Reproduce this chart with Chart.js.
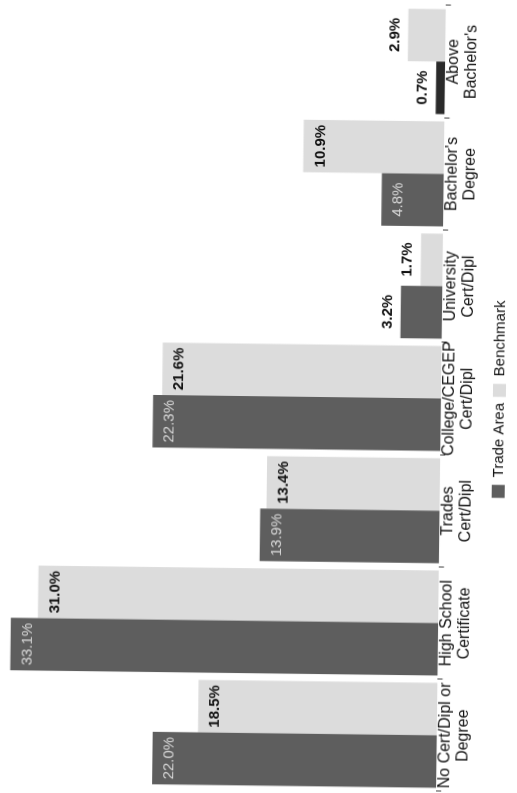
<!DOCTYPE html>
<html><head><meta charset="utf-8">
<script src="https://cdn.jsdelivr.net/npm/chart.js@4.4.0/dist/chart.umd.min.js"></script>
<style>
html,body{margin:0;padding:0;background:#fff;overflow:hidden;width:517px;height:793px;}
#wrap{position:absolute;left:0;top:0;width:793px;height:517px;transform-origin:0 0;transform:translate(-5px,789px) rotate(-89.29deg);}
canvas{display:block;}
</style></head><body>
<div id="wrap"><canvas id="c" width="793" height="517"></canvas></div>
<script>
const categories = [
  ["No Cert/Dipl or","Degree"],
  ["High School","Certificate"],
  ["Trades","Cert/Dipl"],
  ["College/CEGEP","Cert/Dipl"],
  ["University","Cert/Dipl"],
  ["Bachelor's","Degree"],
  ["Above","Bachelor's"]
];
const seriesNames = ["Trade Area","Benchmark"];
const tradeArea = [22.0, 33.1, 13.9, 22.3, 3.2, 4.8, 0.7];
const benchmark = [18.5, 31.0, 13.4, 21.6, 1.7, 10.9, 2.9];
const seriesColors = ["#5e5e5e","#dcdcdc"];

const FONT = '"Liberation Sans", Arial, sans-serif';

const valueLabels = {
  id: 'valueLabels',
  afterDatasetsDraw(chart) {
    const ctx = chart.ctx;
    ctx.save();
    ctx.textAlign = 'center';
    ctx.textBaseline = 'middle';
    chart.data.datasets.forEach((ds, di) => {
      const meta = chart.getDatasetMeta(di);
      meta.data.forEach((bar, i) => {
        const v = ds.data[i];
        const len = bar.base - bar.y;
        const txt = v.toFixed(1) + '%';
        let y, font, color;
        if (len > 45) {
          y = bar.y + 17;
          if (di === 0) { font = '15px ' + FONT; color = '#d8d8d8'; }
          else { font = 'bold 15px ' + FONT; color = '#111'; }
        } else {
          y = bar.y - 13;
          font = 'bold 15px ' + FONT; color = '#111';
        }
        ctx.font = font;
        ctx.fillStyle = color;
        ctx.fillText(txt, bar.x, y);
      });
    });
    ctx.restore();
  }
};

new Chart(document.getElementById('c'), {
  type: 'bar',
  data: {
    labels: categories,
    datasets: [
      { label: seriesNames[0], data: tradeArea,
        backgroundColor: (c) => (c.type === 'data' && c.parsed && c.parsed.y < 1) ? '#2a2a2a' : seriesColors[0],
        borderWidth: 0, categoryPercentage: 0.935, barPercentage: 1.0 },
      { label: seriesNames[1], data: benchmark, backgroundColor: seriesColors[1], borderWidth: 0,
        categoryPercentage: 0.935, barPercentage: 1.0 }
    ]
  },
  options: {
    responsive: false,
    maintainAspectRatio: false,
    animation: false,
    devicePixelRatio: 1,
    layout: { padding: { left: 3, right: 4, top: 2, bottom: 0 } },
    plugins: {
      legend: {
        position: 'bottom',
        labels: { boxWidth: 13, boxHeight: 13, padding: 6, color: '#111',
                  font: { family: FONT, size: 15 },
                  generateLabels: (chart) => chart.data.datasets.map((ds, i) => ({
                    text: ds.label, fillStyle: seriesColors[i], strokeStyle: seriesColors[i],
                    lineWidth: 0, hidden: false, datasetIndex: i, fontColor: '#111'
                  }))
                }
      },
      tooltip: { enabled: false },
      title: { display: false }
    },
    scales: {
      x: {
        grid: { display: true, drawOnChartArea: false, drawTicks: true, tickLength: 5,
                color: '#444', offset: true },
        border: { display: false },
        ticks: { color: '#111', font: { family: FONT, size: 16, lineHeight: 1.15 },
                 padding: -6, maxRotation: 0, autoSkip: false },
        afterFit(s) { s.height += 15; }
      },
      y: { display: false, min: 0, max: 34 }
    }
  },
  plugins: [valueLabels]
});
</script>
</body></html>
